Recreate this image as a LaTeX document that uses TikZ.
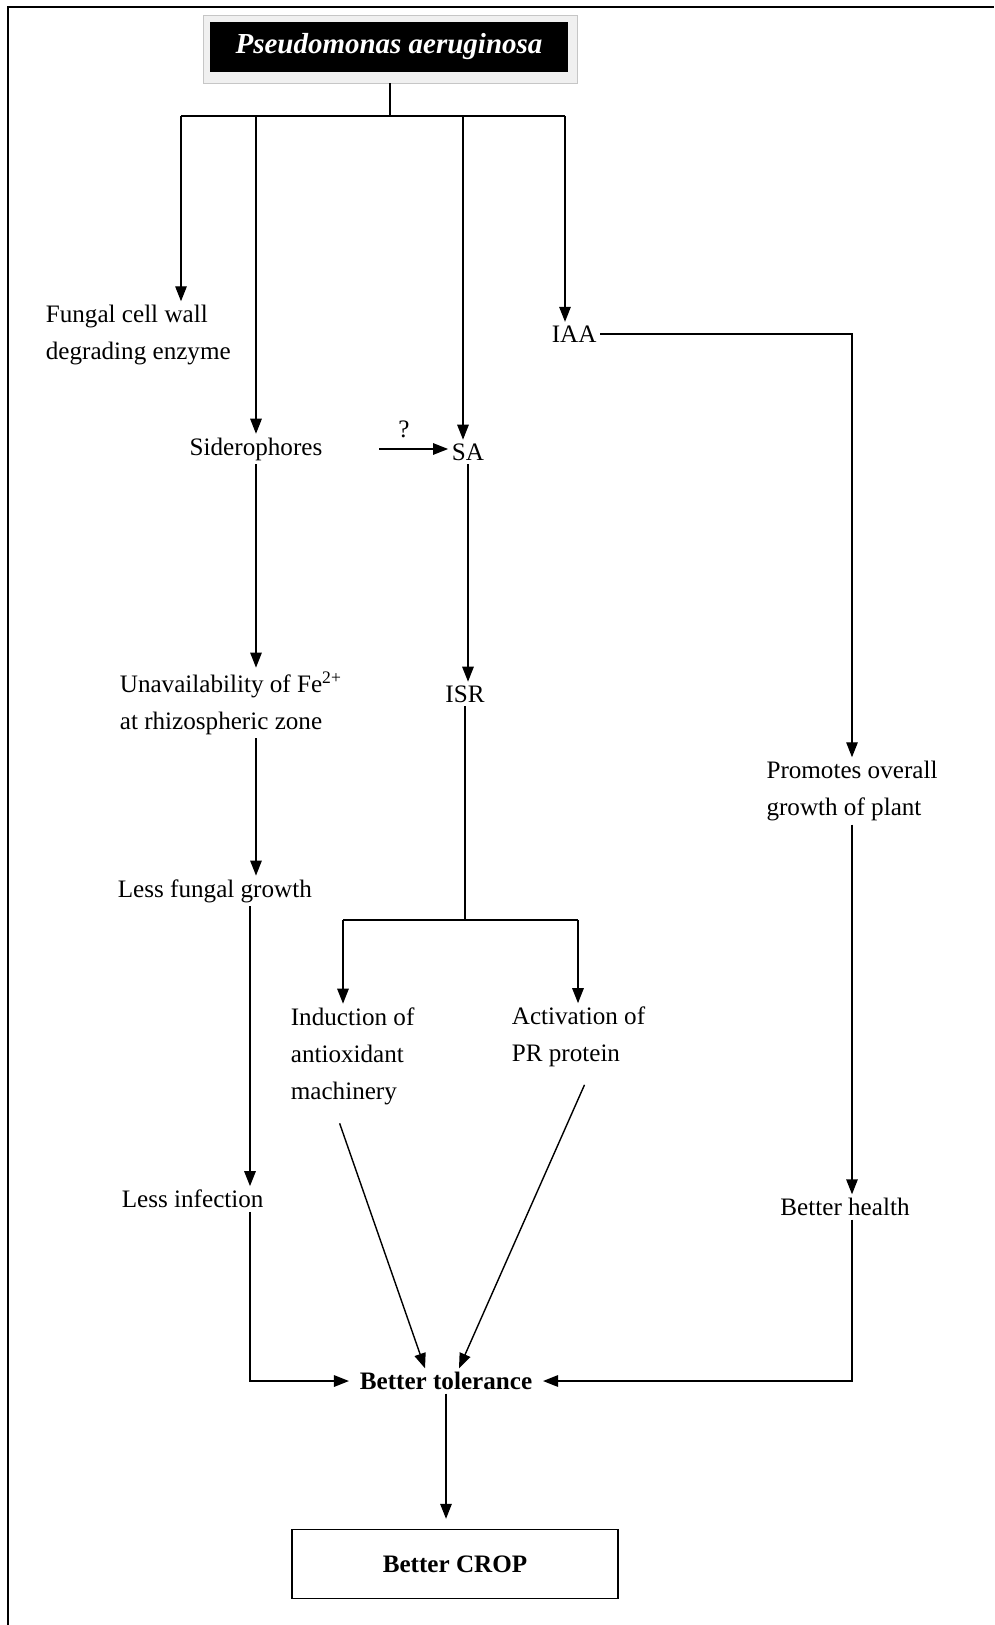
\documentclass[tikz,border=0pt]{standalone}
\usepackage{fontspec}
\setmainfont{Liberation Serif}
\usetikzlibrary{arrows.meta}

\begin{document}
\begin{tikzpicture}[x=0.02cm,y=-0.02cm,
  every node/.style={font=\fontsize{14.3}{21}\selectfont,inner sep=2pt},
  bld/.style={font=\fontsize{14.3}{21}\selectfont\bfseries},
  ln/.style={line width=0.8pt},
  arr/.style={ln,-{Triangle[length=3mm,width=2.3mm]}}]
  \useasboundingbox (0,0) rectangle (994,1625);
  \draw[line width=1.1pt] (8,1625) -- (8,7) -- (994,7);

  % title box
  \node[fill=gray!12,draw=gray!45,minimum width=7.48cm,minimum height=1.36cm] (frame) at (390,49) {};
  \node[fill=black,text=white,minimum width=7.16cm,minimum height=1cm,
        font=\fontsize{16.5}{20}\selectfont\bfseries\itshape] (pa) at (389,47) {Pseudomonas aeruginosa};

  % left column
  \node[anchor=west,align=left] (fungal) at (42,335) {Fungal cell wall\\degrading enzyme};
  \node (sidero) at (256,449) {Siderophores};
  \node[anchor=west,align=left] (unavail) at (116,703) {Unavailability of Fe\textsuperscript{2+}\\at rhizospheric zone};
  \node[anchor=west] (lessfungal) at (114,891) {Less fungal growth};
  \node[anchor=west] (lessinf) at (118,1199) {Less infection};

  % middle column
  \node (sa) at (468,452) {SA};
  \node (isr) at (465,694) {ISR};
  \node[anchor=west,align=left] (induction) at (287,1056) {Induction of\\antioxidant\\machinery};
  \node[anchor=west,align=left] (activation) at (508,1037) {Activation of\\PR protein};

  % right column
  \node[anchor=west] (iaa) at (548,334) {IAA};
  \node[align=left] (promotes) at (852,791) {Promotes overall\\growth of plant};
  \node (health) at (845,1207) {Better health};

  % bottom
  \node[bld,inner xsep=6pt] (tolerance) at (446,1381) {Better tolerance};
  \node[bld,draw,ln,minimum width=6.52cm,minimum height=1.38cm] (crop) at (455,1564) {Better CROP};

  \coordinate (busL) at (181,116);
  \coordinate (busR) at (565,116);
  \coordinate (b3) at (463,116);
  \coordinate (q0) at (379,449);
  \coordinate (col) at (250,0);
  \coordinate (splitL) at (343,920);
  \coordinate (splitR) at (578,920);

  \draw[ln] (frame.south) -- (frame.south |- busL);
  \draw[ln] (busL) -- (busR);
  \draw[arr] (busL) -- (busL |- fungal.north);
  \draw[arr] (sidero.north |- busL) -- (sidero.north);
  \draw[arr] (b3) -- (b3 |- sa.north);
  \draw[arr] (busR) -- (busR |- iaa.north);
  \draw[arr] (iaa.east) -| (promotes.north);
  \draw[arr] (q0) -- node[above=4pt,pos=0.36] (q) {?} (q0 -| sa.west);

  \draw[arr] (sidero.south) -- (sidero.south |- unavail.north);
  \draw[arr] (sidero.south |- unavail.south) -- (sidero.south |- lessfungal.north);
  \draw[arr] (lessfungal.south -| col) -- (col |- lessinf.north);
  \draw[arr] (lessinf.south -| col) |- (tolerance.west);

  \draw[arr] (promotes.south) -- (promotes.south |- health.north);
  \draw[arr] (health.south -| promotes.south) |- (tolerance.east);

  \draw[arr] (sa.south) -- (sa.south |- isr.north);
  \draw[ln] (isr.south) -- (isr.south |- splitL);
  \draw[ln] (splitL) -- (splitR);
  \draw[arr] (splitL) -- (splitL |- induction.north);
  \draw[arr] (splitR) -- (splitR |- activation.north);
  \draw[arr] ([xshift=-0.26cm,yshift=-0.3cm]induction.south) -- ([xshift=-0.42cm]tolerance.north);
  \draw[arr] ([xshift=0.12cm,yshift=-0.28cm]activation.south) -- ([xshift=0.26cm]tolerance.north);

  \draw[arr,shorten >=0.2cm] (tolerance.south) -- (tolerance.south |- crop.north);
\end{tikzpicture}
\end{document}
